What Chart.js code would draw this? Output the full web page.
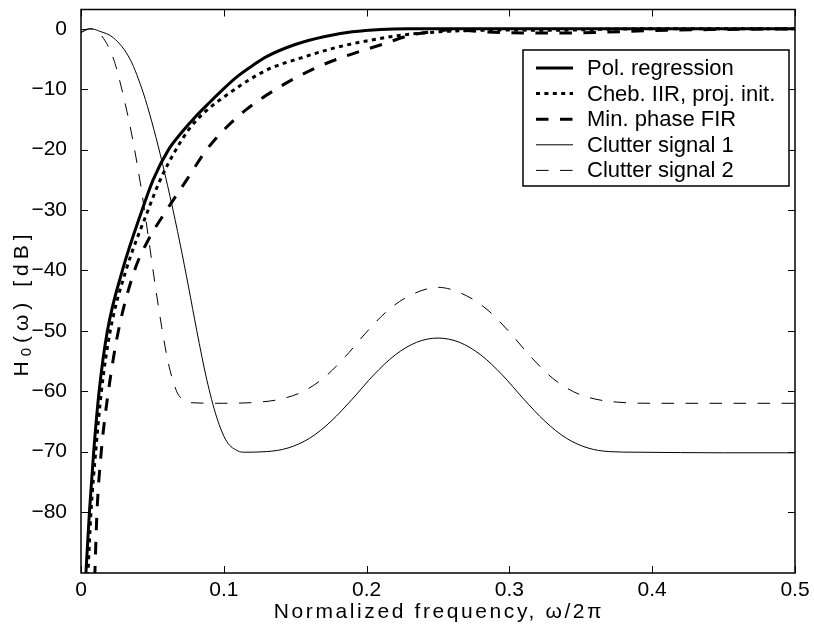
<!DOCTYPE html>
<html>
<head>
<meta charset="utf-8">
<script src="https://cdn.jsdelivr.net/npm/chart.js@4.4.0/dist/chart.umd.min.js"></script>
<style>
  html, body { margin: 0; padding: 0; background: #fff; }
  canvas { display: block; }
</style>
</head>
<body>
<canvas id="chart" width="814" height="633"></canvas>
<script>
// axis ticks
const xTicks = [0, 0.1, 0.2, 0.3, 0.4, 0.5];
const yTicks = [-80, -70, -60, -50, -40, -30, -20, -10, 0];

const seriesNames = ["Pol. regression", "Cheb. IIR, proj. init.", "Min. phase FIR", "Clutter signal 1", "Clutter signal 2"];
const xLabel = "Normalized frequency, \u03c9/2\u03c0";

// Pol. regression
const polX = [0.0030, 0.0059, 0.0089, 0.0127, 0.0185, 0.0290, 0.0428, 0.0505, 0.0613, 0.0700, 0.0800, 0.0900, 0.1000, 0.1100, 0.1200, 0.1300, 0.1500, 0.1700, 0.1900, 0.2100, 0.2300, 0.3000, 0.4000, 0.5000];
const polY = [-92, -80, -70, -60, -50, -40, -30, -25, -20, -17.3, -14.6, -12.2, -9.9, -7.8, -6.1, -4.6, -2.6, -1.3, -0.5, -0.1, 0, 0, 0, 0];

// Cheb. IIR, proj. init.
const chebX = [0.0045, 0.0070, 0.0103, 0.0143, 0.0205, 0.0315, 0.0470, 0.0555, 0.0665, 0.0760, 0.0880, 0.1030, 0.1180, 0.1330, 0.1530, 0.1770, 0.2000, 0.2230, 0.2470, 0.2700, 0.3000, 0.3300, 0.3600, 0.4000, 0.4500, 0.5000];
const chebY = [-92, -80, -70, -60, -50, -40, -30, -25, -20, -16.5, -13.5, -10.8, -8.4, -6.5, -4.9, -3.2, -2.0, -1.1, -0.55, -0.3, -0.2, -0.25, -0.1, 0, 0, 0];

// Min. phase FIR
const firX = [0.0096, 0.0112, 0.0142, 0.0192, 0.0262, 0.0375, 0.0470, 0.0600, 0.0740, 0.0880, 0.0990, 0.1150, 0.1400, 0.1650, 0.1880, 0.2120, 0.2300, 0.2450, 0.2600, 0.2800, 0.3000, 0.3300, 0.3600, 0.4000, 0.4500, 0.5000];
const firY = [-91, -80, -70, -60, -50, -40, -35, -30, -25, -20, -17, -13.5, -9.5, -6.4, -4.3, -2.5, -1.1, -0.5, -0.15, -0.45, -0.65, -0.7, -0.6, -0.3, -0.1, 0];

// Clutter signal 1
const c1X = [0, 0.0035, 0.0070, 0.0130, 0.0228, 0.0345, 0.0436, 0.0496, 0.0555, 0.0624, 0.0694, 0.0752, 0.0811, 0.0880, 0.0950, 0.1020, 0.1100, 0.1140, 0.1300, 0.1450, 0.1600, 0.1750, 0.1900, 0.2050, 0.2200, 0.2350, 0.2500, 0.2650, 0.2800, 0.2950, 0.3100, 0.3250, 0.3400, 0.3550, 0.3700, 0.3900, 0.4500, 0.5000];
const c1Y = [-0.6, -0.1, 0, -0.4, -1.5, -5.1, -10.6, -15.4, -20.8, -27.8, -35.6, -42.6, -50.0, -58.0, -64.3, -68.3, -69.9, -70.1, -70, -69.4, -67.8, -65.0, -61.3, -57.3, -54.0, -51.9, -51.2, -51.9, -54.0, -57.3, -61.3, -65.0, -67.8, -69.4, -70, -70.1, -70.2, -70.2];

// Clutter signal 2
const c2X = [0, 0.0065, 0.0146, 0.0228, 0.0270, 0.0320, 0.0366, 0.0420, 0.0470, 0.0520, 0.0566, 0.0613, 0.0671, 0.0720, 0.0764, 0.1000, 0.1250, 0.1400, 0.1550, 0.1700, 0.1850, 0.2000, 0.2150, 0.2300, 0.2500, 0.2700, 0.2850, 0.3000, 0.3150, 0.3300, 0.3450, 0.3600, 0.3750, 0.4000, 0.4500, 0.5000];
const c2Y = [-0.6, 0, -1.2, -5, -8.5, -13.5, -18.8, -26.2, -34.2, -42.5, -49.5, -55.5, -60.1, -61.5, -61.9, -62, -61.8, -61.3, -60.1, -57.8, -54.3, -50.2, -46.6, -44.2, -42.8, -44.2, -46.6, -50.2, -54.3, -57.8, -60.1, -61.3, -61.8, -62, -62, -62];

const FONT = '"Liberation Sans", Arial, Helvetica, sans-serif';

function pts(xs, ys) {
    return xs.map((x, i) => ({ x: x, y: ys[i] }));
}

function fmt(v) {
    return v < 0 ? '\u2212' + Math.abs(v) : String(v);
}

// box with inward ticks on all four sides
const framePlugin = {
    id: 'frame',
    afterDatasetsDraw(chart) {
        const { ctx, chartArea: a, scales: { x, y } } = chart;
        ctx.save();
        ctx.strokeStyle = '#000';
        ctx.lineWidth = 1;
        ctx.beginPath();
        x.ticks.forEach(t => {
            const px = Math.round(x.getPixelForValue(t.value)) + 0.5;
            ctx.moveTo(px, a.bottom); ctx.lineTo(px, a.bottom - 7);
            ctx.moveTo(px, a.top); ctx.lineTo(px, a.top + 7);
        });
        y.ticks.forEach(t => {
            const py = Math.round(y.getPixelForValue(t.value)) + 0.5;
            ctx.moveTo(a.left, py); ctx.lineTo(a.left + 7, py);
            ctx.moveTo(a.right, py); ctx.lineTo(a.right - 7, py);
        });
        ctx.stroke();
        ctx.lineWidth = 1.5;
        ctx.strokeRect(a.left, a.top, a.right - a.left, a.bottom - a.top);
        ctx.restore();
    }
};

// axis titles, spaced out like the original
const titlePlugin = {
    id: 'axisTitles',
    afterDraw(chart) {
        const { ctx, chartArea: a } = chart;
        ctx.save();
        ctx.fillStyle = '#000';
        ctx.textBaseline = 'middle';
        ctx.textAlign = 'center';
        ctx.font = '21px ' + FONT;
        ctx.letterSpacing = '2.6px';
        ctx.fillText(xLabel, (a.left + a.right) / 2 + 1, 612);

        // y title: H, subscript 0, (ω) [dB]
        ctx.translate(22, 303);
        ctx.rotate(-Math.PI / 2);
        ctx.letterSpacing = '5px';
        ctx.textAlign = 'left';
        const partA = 'H', partB = '0', partC = '(\u03c9) [dB]';
        ctx.font = '21px ' + FONT;
        const wA = ctx.measureText(partA).width;
        const wC = ctx.measureText(partC).width;
        ctx.font = '15px ' + FONT;
        const wB = ctx.measureText(partB).width;
        let cx = -(wA + wB + wC) / 2;
        ctx.font = '21px ' + FONT;
        ctx.fillText(partA, cx, 0);
        cx += wA;
        ctx.font = '15px ' + FONT;
        ctx.fillText(partB, cx, 5);
        cx += wB;
        ctx.font = '21px ' + FONT;
        ctx.fillText(partC, cx, 0);
        ctx.restore();
    }
};

// legend box in the upper right corner
const legendPlugin = {
    id: 'boxLegend',
    afterDraw(chart) {
        const ctx = chart.ctx;
        const x0 = 523, y0 = 50, w = 266, h = 136, row = 25.6;
        ctx.save();
        ctx.fillStyle = '#fff';
        ctx.fillRect(x0, y0, w, h);
        ctx.lineWidth = 1.5;
        ctx.strokeStyle = '#000';
        ctx.strokeRect(x0, y0, w, h);
        ctx.font = '22px ' + FONT;
        ctx.textBaseline = 'middle';
        ctx.fillStyle = '#000';
        chart.data.datasets.forEach((ds, i) => {
            const yy = y0 + 18 + i * row;
            ctx.beginPath();
            ctx.setLineDash(ds.borderDash || []);
            ctx.lineWidth = ds.borderWidth;
            ctx.moveTo(x0 + 13, yy);
            ctx.lineTo(x0 + 50, yy);
            ctx.stroke();
            ctx.setLineDash([]);
            ctx.fillText(ds.label, x0 + 64, yy + 1);
        });
        ctx.restore();
    }
};

const series = [
    { x: polX, y: polY, width: 3, dash: [] },
    { x: chebX, y: chebY, width: 3, dash: [4, 4.4] },
    { x: firX, y: firY, width: 3, dash: [12.5, 11.5] },
    { x: c1X, y: c1Y, width: 1, dash: [] },
    { x: c2X, y: c2Y, width: 1, dash: [12.5, 11.5] }
];

function noPad(s) {
    s.paddingTop = 0;
    s.paddingBottom = 0;
    s.paddingLeft = 0;
    s.paddingRight = 0;
}

new Chart(document.getElementById('chart'), {
    type: 'line',
    data: {
        datasets: series.map((s, i) => ({
            label: seriesNames[i],
            data: pts(s.x, s.y),
            borderColor: '#000',
            borderWidth: s.width,
            borderDash: s.dash,
            pointRadius: 0,
            fill: false,
            cubicInterpolationMode: 'monotone'
        }))
    },
    options: {
        responsive: false,
        animation: false,
        devicePixelRatio: 1,
        layout: { padding: { top: 9.5, right: 19, left: 0, bottom: 0 } },
        plugins: { legend: { display: false }, tooltip: { enabled: false } },
        scales: {
            x: {
                type: 'linear',
                min: 0,
                max: 0.5,
                grid: { display: false },
                border: { display: false },
                afterBuildTicks: s => { s.ticks = xTicks.map(v => ({ value: v })); },
                afterFit: s => { s.height = 60; noPad(s); },
                ticks: {
                    autoSkip: false,
                    maxRotation: 0,
                    padding: -3,
                    color: '#000',
                    font: { family: FONT, size: 21 },
                    callback: v => String(v)
                }
            },
            y: {
                type: 'linear',
                min: -90.1,
                max: 3.2,
                grid: { display: false },
                border: { display: false },
                afterBuildTicks: s => { s.ticks = yTicks.map(v => ({ value: v })); },
                afterFit: s => { s.width = 81; noPad(s); },
                ticks: {
                    autoSkip: false,
                    padding: 6,
                    color: '#000',
                    font: { family: FONT, size: 21 },
                    callback: v => fmt(v)
                }
            }
        }
    },
    plugins: [framePlugin, titlePlugin, legendPlugin]
});
</script>
</body>
</html>
